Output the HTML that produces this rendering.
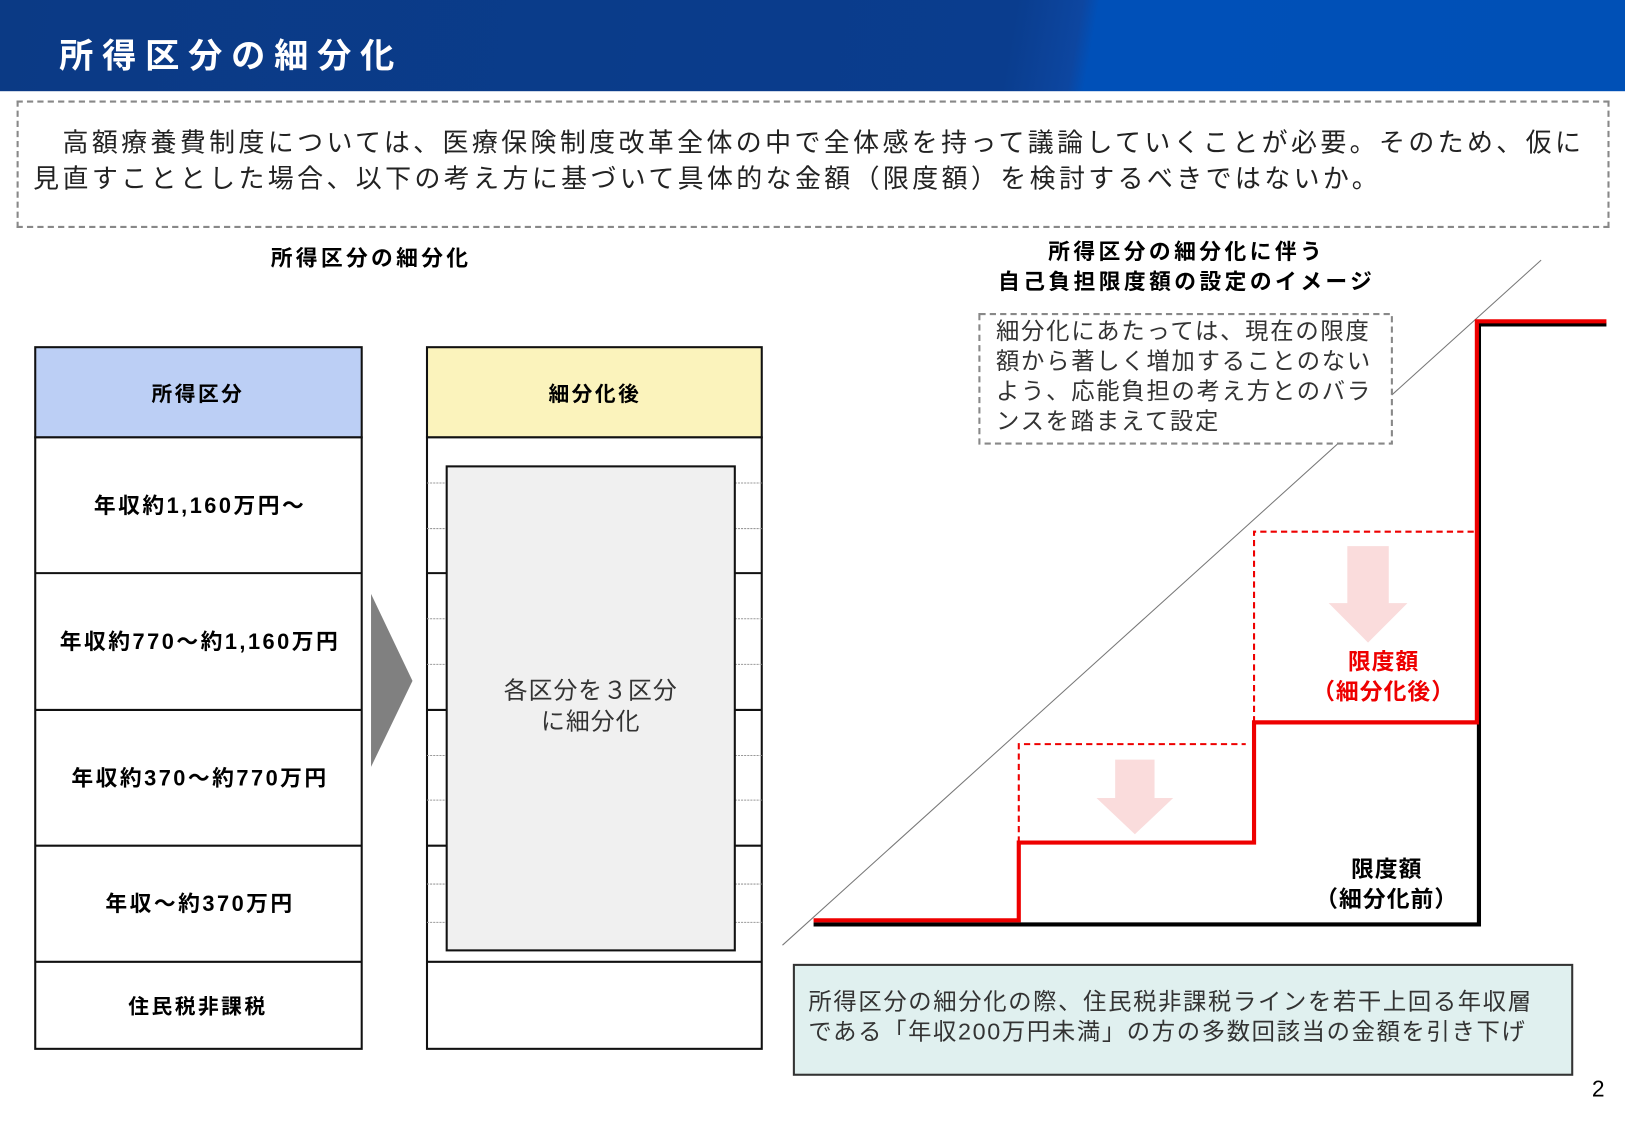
<!DOCTYPE html>
<html><head><meta charset="utf-8"><style>
html,body{margin:0;padding:0;background:#fff;}
body{width:1625px;height:1125px;overflow:hidden;position:relative;font-family:"Liberation Sans","Noto Sans CJK JP",sans-serif;}
#c{position:absolute;left:0;top:0;width:1568px;height:1086px;transform:scale(1.0364);transform-origin:0 0;}
.a{position:absolute;}
.t{position:absolute;white-space:nowrap;}
.b{font-weight:bold;}
.l{letter-spacing:2.4px;}
</style></head><body><div id="c">
<div class="a" style="left:0;top:0;width:1568px;height:88px;background:linear-gradient(100deg,#0b3a85 0%,#0a3d8e 62%,#0d46a0 66%,#0050b8 67%,#0050b6 100%);"></div>
<div class="t b" style="left:57px;top:27px;font-size:33px;color:#fff;letter-spacing:8.5px;">所得区分の細分化</div>
<div class="a" style="left:16px;top:97px;width:1533px;height:119px;border:2px dashed #888;"></div>
<div class="t" style="left:32px;top:121px;font-size:25px;line-height:35px;color:#222;letter-spacing:3.3px;">　高額療養費制度については、医療保険制度改革全体の中で全体感を持って議論していくことが必要。そのため、仮に<br>見直すこととした場合、以下の考え方に基づいて具体的な金額（限度額）を検討するべきではないか。</div>
<div class="t b" style="left:358px;top:233px;transform:translateX(-50%);font-size:21px;letter-spacing:3.2px;">所得区分の細分化</div>
<div class="t b" style="left:1145px;top:229px;transform:translateX(-50%);font-size:21px;line-height:29px;text-align:center;letter-spacing:3.3px;">所得区分の細分化に伴う<br>自己負担限度額の設定のイメージ</div>
<svg class="a" style="left:0;top:0" width="1568" height="1086">
<rect x="34" y="335" width="315" height="87" fill="#bccff5" stroke="#111" stroke-width="2"/>
<rect x="34" y="422" width="315" height="590" fill="#fff" stroke="#111" stroke-width="2"/>
<g stroke="#111" stroke-width="2"><line x1="34" y1="553" x2="349" y2="553"/><line x1="34" y1="685" x2="349" y2="685"/><line x1="34" y1="816" x2="349" y2="816"/><line x1="34" y1="928" x2="349" y2="928"/></g>
<rect x="412" y="335" width="323" height="87" fill="#fbf3bc" stroke="#111" stroke-width="2"/>
<rect x="412" y="422" width="323" height="590" fill="#fff" stroke="#111" stroke-width="2"/>
<g stroke="#111" stroke-width="2"><line x1="412" y1="553" x2="735" y2="553"/><line x1="412" y1="685" x2="735" y2="685"/><line x1="412" y1="816" x2="735" y2="816"/><line x1="412" y1="928" x2="735" y2="928"/></g>
<g stroke="#999" stroke-width="1" stroke-dasharray="2,1"><line x1="412" y1="466" x2="735" y2="466"/><line x1="412" y1="510" x2="735" y2="510"/><line x1="412" y1="597" x2="735" y2="597"/><line x1="412" y1="641" x2="735" y2="641"/><line x1="412" y1="729" x2="735" y2="729"/><line x1="412" y1="772" x2="735" y2="772"/><line x1="412" y1="853" x2="735" y2="853"/><line x1="412" y1="890" x2="735" y2="890"/></g>
<rect x="431" y="450" width="278" height="467" fill="#f0f0f0" stroke="#111" stroke-width="2"/>
<polygon points="358,573 398,657 358,740" fill="#808080"/>
<line x1="755" y1="912" x2="1487" y2="251" stroke="#777" stroke-width="1"/>
<rect x="945" y="303" width="398" height="125" fill="#fff" stroke="#888" stroke-width="2" stroke-dasharray="6,4"/>
<g stroke="#e00" stroke-width="2" stroke-dasharray="6,4" fill="none"><polyline points="983,813 983,718 1202,718"/><polyline points="1210,697 1210,513 1422,513"/></g>
<polygon points="1076,733 1114,733 1114,770 1132,770 1095,805 1058,770 1076,770" fill="#fadcdc"/>
<polygon points="1300,527 1340,527 1340,582 1358,582 1320,620 1282,582 1300,582" fill="#fadcdc"/>
<polyline points="785,892 1427,892 1427,313 1550,313" fill="none" stroke="#000" stroke-width="4"/>
<polyline points="785,888 983,888 983,813 1210,813 1210,697 1425,697 1425,310 1550,310" fill="none" stroke="#e00" stroke-width="4"/>
<rect x="766" y="931" width="751" height="106" fill="#e0f0ef" stroke="#333" stroke-width="2"/>
</svg>
<div class="t b l" style="left:191px;top:364px;transform:translateX(-50%);font-size:20px;">所得区分</div>
<div class="t b l" style="left:574px;top:364px;transform:translateX(-50%);font-size:20px;">細分化後</div>
<div class="t b l" style="left:193px;top:472px;transform:translateX(-50%);font-size:21px;">年収約1,160万円～</div>
<div class="t b l" style="left:193px;top:603px;transform:translateX(-50%);font-size:21px;">年収約770～約1,160万円</div>
<div class="t b l" style="left:193px;top:735px;transform:translateX(-50%);font-size:21px;">年収約370～約770万円</div>
<div class="t b l" style="left:193px;top:856px;transform:translateX(-50%);font-size:21px;">年収～約370万円</div>
<div class="t b l" style="left:191px;top:955px;transform:translateX(-50%);font-size:20px;">住民税非課税</div>
<div class="t" style="left:570px;top:651px;transform:translateX(-50%);font-size:23px;line-height:30px;text-align:center;color:#333;letter-spacing:1px;">各区分を３区分<br>に細分化</div>
<div class="t" style="left:961px;top:305px;font-size:22.5px;line-height:29px;color:#333;letter-spacing:1.7px;">細分化にあたっては、現在の限度<br>額から著しく増加することのない<br>よう、応能負担の考え方とのバラ<br>ンスを踏まえて設定</div>
<div class="t b" style="left:1335px;top:624px;transform:translateX(-50%);font-size:22px;line-height:29px;text-align:center;color:#e00;letter-spacing:1px;">限度額<br>（細分化後）</div>
<div class="t b" style="left:1338px;top:824px;transform:translateX(-50%);font-size:22px;line-height:29px;text-align:center;letter-spacing:1px;">限度額<br>（細分化前）</div>
<div class="t" style="left:780px;top:952px;font-size:22.5px;line-height:29px;color:#333;letter-spacing:1.6px;">所得区分の細分化の際、住民税非課税ラインを若干上回る年収層<br>である「年収200万円未満」の方の多数回該当の金額を引き下げ</div>
<div class="t" style="left:1536px;top:1038px;font-size:22px;">2</div>
</div></body></html>
